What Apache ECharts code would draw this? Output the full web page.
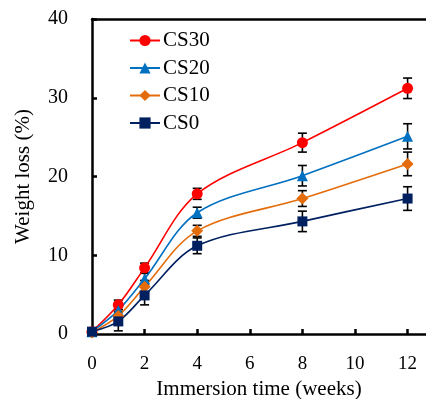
<!DOCTYPE html>
<html>
<head>
<meta charset="utf-8">
<script src="https://cdn.jsdelivr.net/npm/echarts@6/dist/echarts.min.js"></script>
<style>html,body{margin:0;padding:0;background:#fff}#c{width:426px;height:399px}</style>
</head>
<body>
<div id="c"></div>
<script>
const weeks = [0, 1, 2, 4, 8, 12];
const cs30 = [0.3, 3.7, 8.4, 17.8, 24.3, 31.2];
const cs30Err = [0.3, 0.6, 0.6, 0.7, 1.2, 1.3];
const cs20 = [0.3, 3.0, 7.0, 15.4, 20.1, 25.1];
const cs20Err = [0.3, 0.6, 0.7, 0.7, 1.3, 1.6];
const cs10 = [0.2, 2.3, 6.0, 13.1, 17.2, 21.6];
const cs10Err = [0.2, 0.8, 0.8, 0.7, 1.0, 1.5];
const cs0 = [0.3, 1.6, 4.9, 11.2, 14.3, 17.2];
const cs0Err = [0.2, 1.2, 1.2, 1.0, 1.3, 1.5];
const xTicks = [0, 2, 4, 6, 8, 10, 12];

const seriesDefs = [
  {name: 'CS30', vals: cs30, err: cs30Err, color: '#FF0000', symbol: 'circle', size: 11},
  {name: 'CS20', vals: cs20, err: cs20Err, color: '#0070C0', symbol: 'triangle', size: 11},
  {name: 'CS10', vals: cs10, err: cs10Err, color: '#E46C0A', symbol: 'diamond', size: 12},
  {name: 'CS0', vals: cs0, err: cs0Err, color: '#002060', symbol: 'rect', size: 10}
];

const font = "'Liberation Serif', 'Times New Roman', serif";
const series = [];
seriesDefs.forEach(function (d) {
  series.push({
    type: 'custom',
    name: d.name + ' err',
    z: 1,
    silent: true,
    data: weeks.map(function (w, i) { return [w, d.vals[i] - d.err[i], d.vals[i] + d.err[i]]; }),
    renderItem: function (params, api) {
      const lo = api.coord([api.value(0), api.value(1)]);
      const hi = api.coord([api.value(0), api.value(2)]);
      const hw = 4.5;
      const st = {stroke: '#000', lineWidth: 1.6};
      return {type: 'group', children: [
        {type: 'line', shape: {x1: lo[0], y1: lo[1], x2: hi[0], y2: hi[1]}, style: st},
        {type: 'line', shape: {x1: lo[0] - hw, y1: lo[1], x2: lo[0] + hw, y2: lo[1]}, style: st},
        {type: 'line', shape: {x1: hi[0] - hw, y1: hi[1], x2: hi[0] + hw, y2: hi[1]}, style: st}
      ]};
    }
  });
});
seriesDefs.forEach(function (d) {
  series.push({
    type: 'line',
    name: d.name,
    z: 3,
    smooth: 0.33,
    symbol: d.symbol,
    symbolSize: d.size,
    itemStyle: {color: d.color},
    lineStyle: {color: d.color, width: 1.6},
    data: weeks.map(function (w, i) { return [w, d.vals[i]]; })
  });
});

const chart = echarts.init(document.getElementById('c'));
chart.setOption({
  animation: false,
  backgroundColor: '#fff',
  legend: {
    data: seriesDefs.map(function (d) { return d.name; }),
    orient: 'vertical',
    left: 124,
    top: 25,
    itemWidth: 30,
    itemHeight: 14,
    itemGap: 6.5,
    textStyle: {fontFamily: font, fontSize: 21, color: '#000', padding: [0, 0, 0, -2]}
  },
  grid: {left: 92, right: 0, top: 19, bottom: 65, outerBoundsMode: 'none', containLabel: false},
  xAxis: [{
    type: 'value',
    min: 0,
    max: 12.7,
    name: 'Immersion time (weeks)',
    nameLocation: 'middle',
    nameGap: 45,
    nameTextStyle: {fontFamily: font, fontSize: 21, color: '#000'},
    splitLine: {show: false},
    axisLine: {lineStyle: {color: '#000', width: 2.5}},
    axisTick: {inside: true, length: 5, lineStyle: {color: '#000', width: 2.5}, customValues: xTicks},
    axisLabel: {fontFamily: font, fontSize: 19, color: '#000', margin: 21, customValues: xTicks}
  }, {
    type: 'value',
    position: 'top',
    min: 0,
    max: 12.7,
    axisLine: {show: true, lineStyle: {color: '#000', width: 2.5}},
    axisTick: {show: false},
    axisLabel: {show: false},
    splitLine: {show: false}
  }],
  yAxis: {
    type: 'value',
    min: 0,
    max: 40,
    interval: 10,
    name: 'Weight loss (%)',
    nameLocation: 'middle',
    nameGap: 58,
    nameTextStyle: {fontFamily: font, fontSize: 21, color: '#000'},
    splitLine: {show: false},
    axisLine: {show: true, lineStyle: {color: '#000', width: 2.5}},
    axisTick: {inside: true, length: 5, lineStyle: {color: '#000', width: 2.5}},
    axisLabel: {fontFamily: font, fontSize: 20, color: '#000', margin: 24}
  },
  series: series
});
</script>
</body>
</html>
